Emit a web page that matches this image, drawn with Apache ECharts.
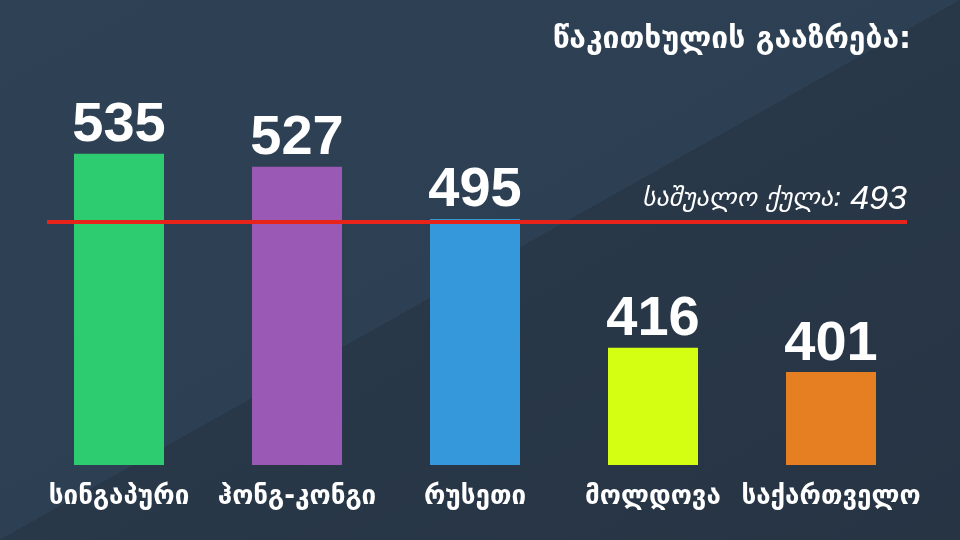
<!DOCTYPE html>
<html>
<head>
<meta charset="utf-8">
<script src="https://cdn.jsdelivr.net/npm/echarts@6/dist/echarts.min.js"></script>
<style>html,body{margin:0;padding:0;background:#2c3e50;}#c{width:960px;height:540px;}</style>
</head>
<body>
<div id="c"></div>
<script>
const categories = ['სინგაპური', 'ჰონგ-კონგი', 'რუსეთი', 'მოლდოვა', 'საქართველო'];
const scores = [535, 527, 495, 416, 401];
const barColors = ['#2ecc71', '#9b59b6', '#3498db', '#d4ff13', '#e67e22'];
const averageScore = 493;
const titleText = 'წაკითხულის გააზრება:';
const averageLabel = 'საშუალო ქულა:';

const yMin = 344, yMax = 568;
const chart = echarts.init(document.getElementById('c'));
chart.setOption({
  animation: false,
  backgroundColor: {
    type: 'linear', global: true, x: 0, y: 0, x2: 461, y2: 820,
    colorStops: [
      { offset: 0, color: '#2f4155' },
      { offset: 0.5, color: '#2d3f52' },
      { offset: 0.5, color: '#293848' },
      { offset: 1, color: '#263444' }
    ]
  },
  title: {
    text: titleText,
    right: 44, top: 20,
    textStyle: { color: '#ffffff', fontSize: 30, fontWeight: 'bold', fontFamily: 'DejaVu Sans' }
  },
  grid: [
    { left: 30, right: 40, top: 100, bottom: 75 },
    { left: 47, right: 53, top: 100, bottom: 75 }
  ],
  xAxis: [
    {
      type: 'category', data: categories, gridIndex: 0,
      axisLine: { show: false }, axisTick: { show: false }, splitLine: { show: false },
      axisLabel: { color: '#ffffff', fontSize: 26, fontWeight: 'bold', fontFamily: 'DejaVu Sans', margin: 19, interval: 0 }
    },
    { type: 'category', data: categories, gridIndex: 1, show: false }
  ],
  yAxis: [
    { type: 'value', min: yMin, max: yMax, gridIndex: 0, show: false, splitLine: { show: false } },
    { type: 'value', min: yMin, max: yMax, gridIndex: 1, show: false, splitLine: { show: false } }
  ],
  series: [
    {
      type: 'bar', xAxisIndex: 0, yAxisIndex: 0,
      barWidth: 90,
      data: scores.map((v, i) => ({ value: v, itemStyle: { color: barColors[i] } })),
      label: {
        show: true, position: 'top', distance: 0,
        color: '#ffffff', fontSize: 56, fontWeight: 'bold',
        fontFamily: '"Liberation Sans", Arial, sans-serif'
      }
    },
    {
      type: 'bar', xAxisIndex: 1, yAxisIndex: 1, data: [], z: 5,
      markLine: {
        silent: true, symbol: ['none', 'none'],
        lineStyle: { color: '#e8231a', width: 4, type: 'solid' },
        data: [{ yAxis: averageScore }],
        label: {
          show: true, position: 'insideEndTop', distance: [0, 6],
          formatter: averageLabel + ' {v|' + averageScore + '}',
          color: '#ffffff', fontSize: 26, fontStyle: 'italic', fontFamily: 'DejaVu Sans',
          rich: {
            v: { color: '#ffffff', fontSize: 34, fontStyle: 'italic', fontFamily: '"Liberation Sans", Arial, sans-serif' }
          }
        }
      }
    }
  ]
});
</script>
</body>
</html>
